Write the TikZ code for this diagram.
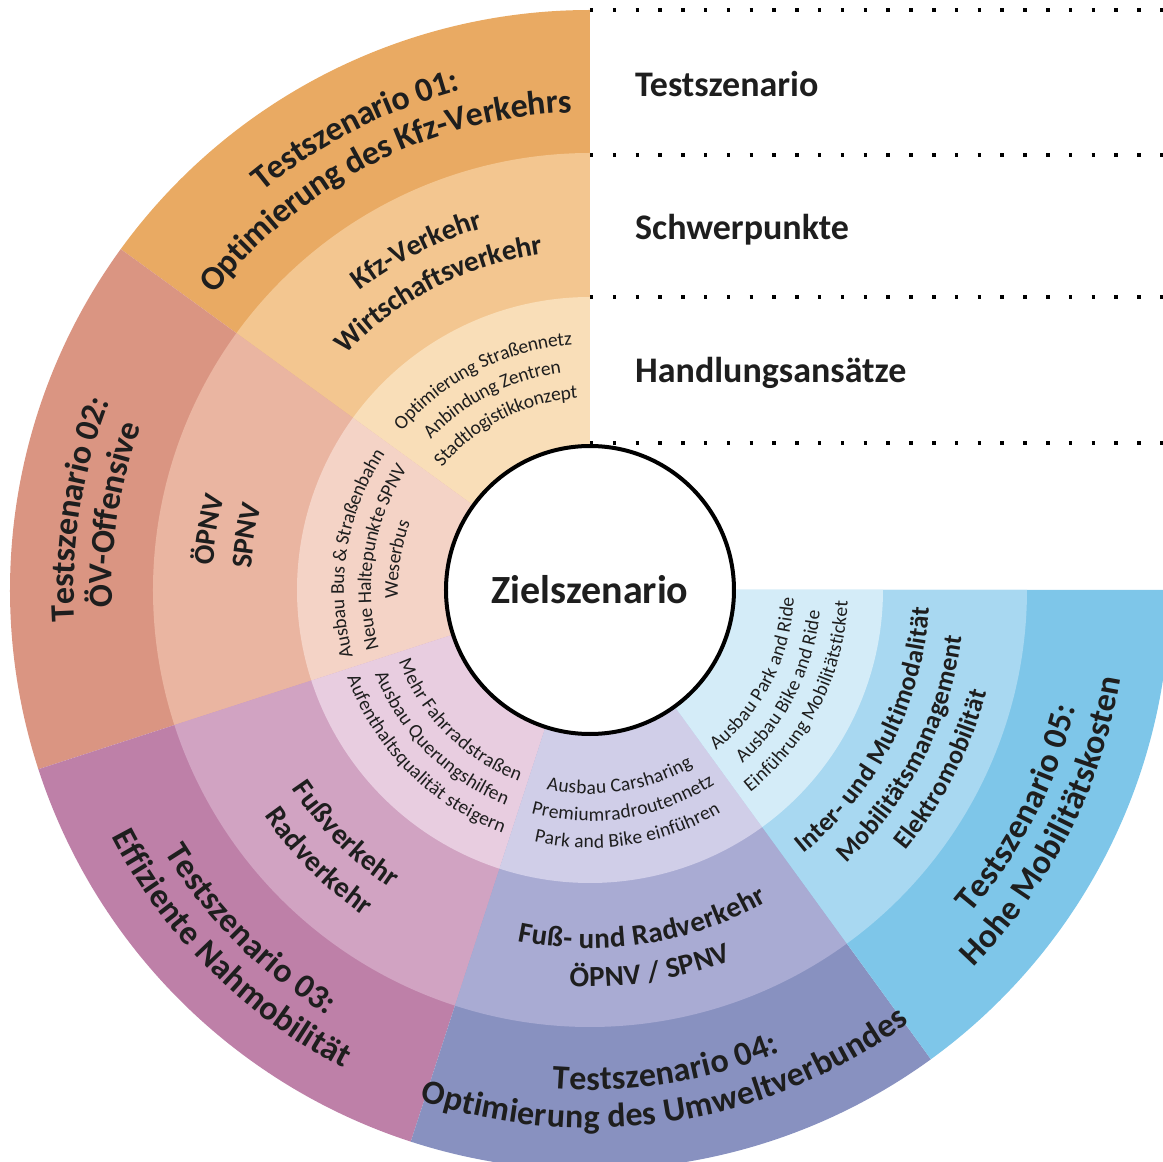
\documentclass[tikz,border=0pt]{standalone}
\usepackage{fontspec}
\setmainfont{Carlito}
\usetikzlibrary{decorations.text}
\definecolor{o1}{HTML}{E9AA63}
\definecolor{o2}{HTML}{F3C690}
\definecolor{o3}{HTML}{F9DEB8}
\definecolor{s1}{HTML}{DA9582}
\definecolor{s2}{HTML}{EAB5A1}
\definecolor{s3}{HTML}{F4D3C6}
\definecolor{m1}{HTML}{BE80A8}
\definecolor{m2}{HTML}{D1A3C2}
\definecolor{m3}{HTML}{E8CDE0}
\definecolor{p1}{HTML}{8891C0}
\definecolor{p2}{HTML}{A9ABD3}
\definecolor{p3}{HTML}{D0CEE8}
\definecolor{b1}{HTML}{7EC6E9}
\definecolor{b2}{HTML}{A8D8F1}
\definecolor{b3}{HTML}{D4ECF8}
\definecolor{txt}{HTML}{1E1E1E}
\newcommand\fo{\fontsize{34}{40}\selectfont\bfseries\color{txt}}
\newcommand\fm{\fontsize{29}{34}\selectfont\bfseries\color{txt}}
\newcommand\fmm{\fontsize{26}{30}\selectfont\bfseries\color{txt}}
\newcommand\fin{\fontsize{19.5}{22}\selectfont\color{txt}}
\newcommand\mysector[4]{\fill[#4] (0,0) -- (#1:#3) arc[start angle=#1, end angle=#2, radius=#3] -- cycle;}
% clockwise line (tops outward)
\newcommand\cwline[5]{\path[decorate,decoration={text along path,text={|#3|#4},text align=center,raise=#5}] (#1+50:#2) arc[start angle=#1+50,end angle=#1-50,radius=#2];}
% counterclockwise line (tops inward)
\newcommand\ccwline[5]{\path[decorate,decoration={text along path,text={|#3|#4},text align=center,raise=#5}] (#1-50:#2) arc[start angle=#1-50,end angle=#1+50,radius=#2];}
\tikzset{
  header/.style={anchor=base west, font=\fontsize{36}{42}\selectfont\bfseries, text=txt, inner sep=0pt},
  dotline/.style={line width=3.5pt, dash pattern=on 3.5pt off 19.3pt, black},
  ziel/.style={circle, draw=black, line width=4pt, fill=white, minimum size=288pt, inner sep=0pt, font=\fontsize{40}{46}\selectfont\bfseries, text=txt}
}
\begin{document}
\begin{tikzpicture}[x=1pt,y=1pt]
\useasboundingbox (-590,-572) rectangle (573,590);
% outer ring
\mysector{90}{144}{580}{o1}
\mysector{144}{198}{580}{s1}
\mysector{198}{252}{580}{m1}
\mysector{252}{306}{580}{p1}
\mysector{306}{360}{580}{b1}
% middle ring
\mysector{90}{144}{437}{o2}
\mysector{144}{198}{437}{s2}
\mysector{198}{252}{437}{m2}
\mysector{252}{306}{437}{p2}
\mysector{306}{360}{437}{b2}
% inner ring
\mysector{90}{144}{293}{o3}
\mysector{144}{198}{293}{s3}
\mysector{198}{252}{293}{m3}
\mysector{252}{306}{293}{p3}
\mysector{306}{360}{293}{b3}
% centre
\node[ziel] (ziel) at (0,0) {Zielszenario};
% --- Testszenario 01 (orange)
\cwline{117}{527}{\fo}{Testszenario 01:}{-11pt}
\cwline{117}{489}{\fo}{Optimierung des Kfz-Verkehrs}{-11pt}
\cwline{117}{387}{\fm}{Kfz-Verkehr}{-9.5pt}
\cwline{117}{349}{\fm}{Wirtschaftsverkehr}{-9.5pt}
\cwline{117}{252}{\fin}{Optimierung Straßennetz}{-6pt}
\cwline{117}{225}{\fin}{Anbindung Zentren}{-6pt}
\cwline{117}{198}{\fin}{Stadtlogistikkonzept}{-6pt}
% --- Testszenario 02 (salmon)
\cwline{171}{527}{\fo}{Testszenario 02:}{-11pt}
\cwline{171}{489}{\fo}{ÖV-Offensive}{-11pt}
\cwline{171}{387}{\fm}{ÖPNV}{-9.5pt}
\cwline{171}{349}{\fm}{SPNV}{-9.5pt}
\cwline{171}{252}{\fin}{Ausbau Bus {\&} Straßenbahn}{-6pt}
\cwline{171}{225}{\fin}{Neue Haltepunkte SPNV}{-6pt}
\cwline{171}{198}{\fin}{Weserbus}{-6pt}
% --- Testszenario 03 (magenta)
\ccwline{225}{489}{\fo}{Testszenario 03:}{-11pt}
\ccwline{225}{527}{\fo}{Effiziente Nahmobilität}{-11pt}
\ccwline{225}{349}{\fm}{Fußverkehr}{-9.5pt}
\ccwline{225}{387}{\fm}{Radverkehr}{-9.5pt}
\ccwline{225}{198}{\fin}{Mehr Fahrradstraßen}{-6pt}
\ccwline{225}{225}{\fin}{Ausbau Querungshilfen}{-6pt}
\ccwline{225}{252}{\fin}{Aufenthaltsqualität steigern}{-6pt}
% --- Testszenario 04 (purple)
\ccwline{279}{489}{\fo}{Testszenario 04:}{-11pt}
\ccwline{279}{527}{\fo}{Optimierung des Umweltverbundes}{-11pt}
\ccwline{279}{349}{\fm}{Fuß- und Radverkehr}{-9.5pt}
\ccwline{279}{387}{\fm}{ÖPNV / SPNV}{-9.5pt}
\ccwline{279}{198}{\fin}{Ausbau Carsharing}{-6pt}
\ccwline{279}{225}{\fin}{Premiumradroutennetz}{-6pt}
\ccwline{279}{252}{\fin}{Park and Bike einführen}{-6pt}
% --- Testszenario 05 (blue)
\ccwline{333}{489}{\fo}{Testszenario 05:}{-11pt}
\ccwline{333}{527}{\fo}{Hohe Mobilitätskosten}{-11pt}
\ccwline{333}{331}{\fmm}{Inter- und Multimodalität}{-8.5pt}
\ccwline{333}{366}{\fmm}{Mobilitätsmanagement}{-8.5pt}
\ccwline{333}{401}{\fmm}{Elektromobilität}{-8.5pt}
\ccwline{333}{198}{\fin}{Ausbau Park and Ride}{-6pt}
\ccwline{333}{225}{\fin}{Ausbau Bike and Ride}{-6pt}
\ccwline{333}{252}{\fin}{Einführung Mobilitätsticket}{-6pt}
% --- legend
\coordinate (d1a) at (0,580);   \coordinate (d1b) at (573,580);
\coordinate (d2a) at (0,435);   \coordinate (d2b) at (573,435);
\coordinate (d3a) at (0,293);   \coordinate (d3b) at (573,293);
\coordinate (d4a) at (0,147);   \coordinate (d4b) at (573,147);
\draw[dotline] (d1a) -- (d1b);
\draw[dotline] (d2a) -- (d2b);
\draw[dotline] (d3a) -- (d3b);
\draw[dotline] (d4a) -- (d4b);
\node[header] (h1) at (45,493) {Testszenario};
\node[header] (h2) at (45,350) {Schwerpunkte};
\node[header] (h3) at (45,207) {Handlungsansätze};
\end{tikzpicture}
\end{document}
